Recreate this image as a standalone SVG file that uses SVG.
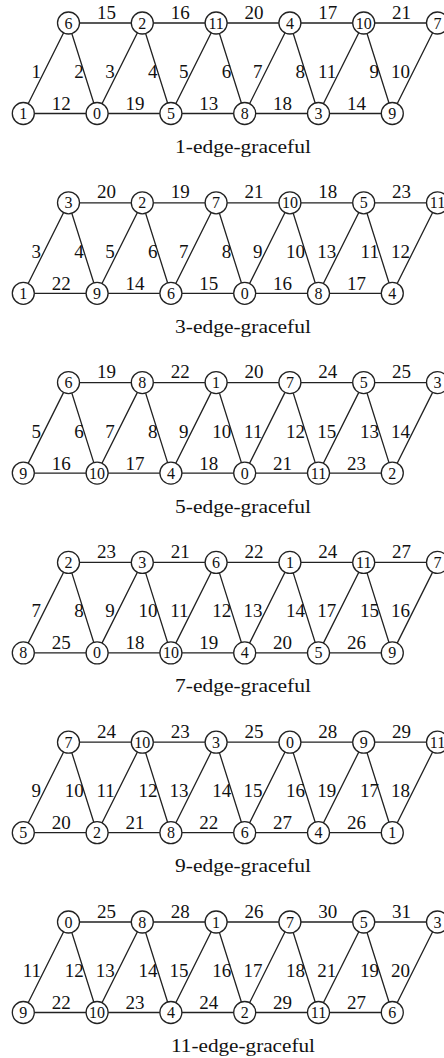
<svg xmlns="http://www.w3.org/2000/svg" xmlns:xlink="http://www.w3.org/1999/xlink" width="444" height="1058" viewBox="0 0 444 1058" font-family="'Liberation Serif','Times New Roman','DejaVu Serif',serif">
<style>
.bg{fill:#fff}
.ln{fill:none;stroke:#222;stroke-width:1.3}
.nd circle{fill:#fff;stroke:#222;stroke-width:1.3}
.nd text{font-family:'Liberation Serif','Times New Roman','DejaVu Serif',serif;font-size:16px;text-anchor:middle;fill:#111}
.lb text{font-family:'Liberation Serif','Times New Roman','DejaVu Serif',serif;font-size:19px;fill:#111}
.lb .h{text-anchor:middle}
.lb .d{text-anchor:end}
.cap{font-family:'Liberation Serif','Times New Roman','DejaVu Serif',serif;font-size:18px;fill:#111;text-anchor:middle}
</style>
<defs>
<path id="frame" class="ln" fill="none" stroke="#222" stroke-width="1.3" d="M68.5 23H437.5M23.3 113.5H392.3M23.3 113.5L68.5 23L97.1 113.5L142.3 23L170.9 113.5L216.1 23L244.7 113.5L289.9 23L318.5 113.5L363.7 23L392.3 113.5L437.5 23"/>
</defs>
<rect class="bg" width="444" height="1058"/>

<!-- Panel 1 -->
<g id="panel1">
<g id="p1-connectors"><use xlink:href="#frame" href="#frame"/></g>
<g class="lb">
<text class="h" x="106.4" y="18.5">15</text><text class="h" x="180.2" y="18.5">16</text><text class="h" x="254" y="18.5">20</text><text class="h" x="327.8" y="18.5">17</text><text class="h" x="401.6" y="18.5">21</text>
<text class="h" x="61.2" y="110">12</text><text class="h" x="135" y="110">19</text><text class="h" x="208.8" y="110">13</text><text class="h" x="282.6" y="110">18</text><text class="h" x="356.4" y="110">14</text>
<text class="d" x="41" y="78">1</text><text class="d" x="114.8" y="78">3</text><text class="d" x="188.6" y="78">5</text><text class="d" x="262.4" y="78">7</text><text class="d" x="336.2" y="78">11</text><text class="d" x="410" y="78">10</text>
<text class="d" x="83.7" y="78">2</text><text class="d" x="157.5" y="78">4</text><text class="d" x="231.3" y="78">6</text><text class="d" x="305.1" y="78">8</text><text class="d" x="378.9" y="78">9</text>
</g>
<g id="p1-t0" class="nd" transform="translate(68.5,23)"><circle r="11"/><text y="5.5">6</text></g>
<g id="p1-t1" class="nd" transform="translate(142.3,23)"><circle r="11"/><text y="5.5">2</text></g>
<g id="p1-t2" class="nd" transform="translate(216.1,23)"><circle r="11"/><text y="5.5">11</text></g>
<g id="p1-t3" class="nd" transform="translate(289.9,23)"><circle r="11"/><text y="5.5">4</text></g>
<g id="p1-t4" class="nd" transform="translate(363.7,23)"><circle r="11"/><text y="5.5">10</text></g>
<g id="p1-t5" class="nd" transform="translate(437.5,23)"><circle r="11"/><text y="5.5">7</text></g>
<g id="p1-b0" class="nd" transform="translate(23.3,113.5)"><circle r="11"/><text y="5.5">1</text></g>
<g id="p1-b1" class="nd" transform="translate(97.1,113.5)"><circle r="11"/><text y="5.5">0</text></g>
<g id="p1-b2" class="nd" transform="translate(170.9,113.5)"><circle r="11"/><text y="5.5">5</text></g>
<g id="p1-b3" class="nd" transform="translate(244.7,113.5)"><circle r="11"/><text y="5.5">8</text></g>
<g id="p1-b4" class="nd" transform="translate(318.5,113.5)"><circle r="11"/><text y="5.5">3</text></g>
<g id="p1-b5" class="nd" transform="translate(392.3,113.5)"><circle r="11"/><text y="5.5">9</text></g>
<text class="cap" x="243" y="153" textLength="136" lengthAdjust="spacingAndGlyphs">1-edge-graceful</text>
</g>

<!-- Panel 2 -->
<g id="panel2" transform="translate(0,179.8)">
<g id="p2-connectors"><use xlink:href="#frame" href="#frame"/></g>
<g class="lb">
<text class="h" x="106.4" y="18.5">20</text><text class="h" x="180.2" y="18.5">19</text><text class="h" x="254" y="18.5">21</text><text class="h" x="327.8" y="18.5">18</text><text class="h" x="401.6" y="18.5">23</text>
<text class="h" x="61.2" y="110">22</text><text class="h" x="135" y="110">14</text><text class="h" x="208.8" y="110">15</text><text class="h" x="282.6" y="110">16</text><text class="h" x="356.4" y="110">17</text>
<text class="d" x="41" y="78">3</text><text class="d" x="114.8" y="78">5</text><text class="d" x="188.6" y="78">7</text><text class="d" x="262.4" y="78">9</text><text class="d" x="336.2" y="78">13</text><text class="d" x="410" y="78">12</text>
<text class="d" x="83.7" y="78">4</text><text class="d" x="157.5" y="78">6</text><text class="d" x="231.3" y="78">8</text><text class="d" x="305.1" y="78">10</text><text class="d" x="378.9" y="78">11</text>
</g>
<g id="p2-t0" class="nd" transform="translate(68.5,23)"><circle r="11"/><text y="5.5">3</text></g>
<g id="p2-t1" class="nd" transform="translate(142.3,23)"><circle r="11"/><text y="5.5">2</text></g>
<g id="p2-t2" class="nd" transform="translate(216.1,23)"><circle r="11"/><text y="5.5">7</text></g>
<g id="p2-t3" class="nd" transform="translate(289.9,23)"><circle r="11"/><text y="5.5">10</text></g>
<g id="p2-t4" class="nd" transform="translate(363.7,23)"><circle r="11"/><text y="5.5">5</text></g>
<g id="p2-t5" class="nd" transform="translate(437.5,23)"><circle r="11"/><text y="5.5">11</text></g>
<g id="p2-b0" class="nd" transform="translate(23.3,113.5)"><circle r="11"/><text y="5.5">1</text></g>
<g id="p2-b1" class="nd" transform="translate(97.1,113.5)"><circle r="11"/><text y="5.5">9</text></g>
<g id="p2-b2" class="nd" transform="translate(170.9,113.5)"><circle r="11"/><text y="5.5">6</text></g>
<g id="p2-b3" class="nd" transform="translate(244.7,113.5)"><circle r="11"/><text y="5.5">0</text></g>
<g id="p2-b4" class="nd" transform="translate(318.5,113.5)"><circle r="11"/><text y="5.5">8</text></g>
<g id="p2-b5" class="nd" transform="translate(392.3,113.5)"><circle r="11"/><text y="5.5">4</text></g>
<text class="cap" x="243" y="153" textLength="136" lengthAdjust="spacingAndGlyphs">3-edge-graceful</text>
</g>

<!-- Panel 3 -->
<g id="panel3" transform="translate(0,359.6)">
<g id="p3-connectors"><use xlink:href="#frame" href="#frame"/></g>
<g class="lb">
<text class="h" x="106.4" y="18.5">19</text><text class="h" x="180.2" y="18.5">22</text><text class="h" x="254" y="18.5">20</text><text class="h" x="327.8" y="18.5">24</text><text class="h" x="401.6" y="18.5">25</text>
<text class="h" x="61.2" y="110">16</text><text class="h" x="135" y="110">17</text><text class="h" x="208.8" y="110">18</text><text class="h" x="282.6" y="110">21</text><text class="h" x="356.4" y="110">23</text>
<text class="d" x="41" y="78">5</text><text class="d" x="114.8" y="78">7</text><text class="d" x="188.6" y="78">9</text><text class="d" x="262.4" y="78">11</text><text class="d" x="336.2" y="78">15</text><text class="d" x="410" y="78">14</text>
<text class="d" x="83.7" y="78">6</text><text class="d" x="157.5" y="78">8</text><text class="d" x="231.3" y="78">10</text><text class="d" x="305.1" y="78">12</text><text class="d" x="378.9" y="78">13</text>
</g>
<g id="p3-t0" class="nd" transform="translate(68.5,23)"><circle r="11"/><text y="5.5">6</text></g>
<g id="p3-t1" class="nd" transform="translate(142.3,23)"><circle r="11"/><text y="5.5">8</text></g>
<g id="p3-t2" class="nd" transform="translate(216.1,23)"><circle r="11"/><text y="5.5">1</text></g>
<g id="p3-t3" class="nd" transform="translate(289.9,23)"><circle r="11"/><text y="5.5">7</text></g>
<g id="p3-t4" class="nd" transform="translate(363.7,23)"><circle r="11"/><text y="5.5">5</text></g>
<g id="p3-t5" class="nd" transform="translate(437.5,23)"><circle r="11"/><text y="5.5">3</text></g>
<g id="p3-b0" class="nd" transform="translate(23.3,113.5)"><circle r="11"/><text y="5.5">9</text></g>
<g id="p3-b1" class="nd" transform="translate(97.1,113.5)"><circle r="11"/><text y="5.5">10</text></g>
<g id="p3-b2" class="nd" transform="translate(170.9,113.5)"><circle r="11"/><text y="5.5">4</text></g>
<g id="p3-b3" class="nd" transform="translate(244.7,113.5)"><circle r="11"/><text y="5.5">0</text></g>
<g id="p3-b4" class="nd" transform="translate(318.5,113.5)"><circle r="11"/><text y="5.5">11</text></g>
<g id="p3-b5" class="nd" transform="translate(392.3,113.5)"><circle r="11"/><text y="5.5">2</text></g>
<text class="cap" x="243" y="153" textLength="136" lengthAdjust="spacingAndGlyphs">5-edge-graceful</text>
</g>

<!-- Panel 4 -->
<g id="panel4" transform="translate(0,539.4)">
<g id="p4-connectors"><use xlink:href="#frame" href="#frame"/></g>
<g class="lb">
<text class="h" x="106.4" y="18.5">23</text><text class="h" x="180.2" y="18.5">21</text><text class="h" x="254" y="18.5">22</text><text class="h" x="327.8" y="18.5">24</text><text class="h" x="401.6" y="18.5">27</text>
<text class="h" x="61.2" y="110">25</text><text class="h" x="135" y="110">18</text><text class="h" x="208.8" y="110">19</text><text class="h" x="282.6" y="110">20</text><text class="h" x="356.4" y="110">26</text>
<text class="d" x="41" y="78">7</text><text class="d" x="114.8" y="78">9</text><text class="d" x="188.6" y="78">11</text><text class="d" x="262.4" y="78">13</text><text class="d" x="336.2" y="78">17</text><text class="d" x="410" y="78">16</text>
<text class="d" x="83.7" y="78">8</text><text class="d" x="157.5" y="78">10</text><text class="d" x="231.3" y="78">12</text><text class="d" x="305.1" y="78">14</text><text class="d" x="378.9" y="78">15</text>
</g>
<g id="p4-t0" class="nd" transform="translate(68.5,23)"><circle r="11"/><text y="5.5">2</text></g>
<g id="p4-t1" class="nd" transform="translate(142.3,23)"><circle r="11"/><text y="5.5">3</text></g>
<g id="p4-t2" class="nd" transform="translate(216.1,23)"><circle r="11"/><text y="5.5">6</text></g>
<g id="p4-t3" class="nd" transform="translate(289.9,23)"><circle r="11"/><text y="5.5">1</text></g>
<g id="p4-t4" class="nd" transform="translate(363.7,23)"><circle r="11"/><text y="5.5">11</text></g>
<g id="p4-t5" class="nd" transform="translate(437.5,23)"><circle r="11"/><text y="5.5">7</text></g>
<g id="p4-b0" class="nd" transform="translate(23.3,113.5)"><circle r="11"/><text y="5.5">8</text></g>
<g id="p4-b1" class="nd" transform="translate(97.1,113.5)"><circle r="11"/><text y="5.5">0</text></g>
<g id="p4-b2" class="nd" transform="translate(170.9,113.5)"><circle r="11"/><text y="5.5">10</text></g>
<g id="p4-b3" class="nd" transform="translate(244.7,113.5)"><circle r="11"/><text y="5.5">4</text></g>
<g id="p4-b4" class="nd" transform="translate(318.5,113.5)"><circle r="11"/><text y="5.5">5</text></g>
<g id="p4-b5" class="nd" transform="translate(392.3,113.5)"><circle r="11"/><text y="5.5">9</text></g>
<text class="cap" x="243" y="153" textLength="136" lengthAdjust="spacingAndGlyphs">7-edge-graceful</text>
</g>

<!-- Panel 5 -->
<g id="panel5" transform="translate(0,719.2)">
<g id="p5-connectors"><use xlink:href="#frame" href="#frame"/></g>
<g class="lb">
<text class="h" x="106.4" y="18.5">24</text><text class="h" x="180.2" y="18.5">23</text><text class="h" x="254" y="18.5">25</text><text class="h" x="327.8" y="18.5">28</text><text class="h" x="401.6" y="18.5">29</text>
<text class="h" x="61.2" y="110">20</text><text class="h" x="135" y="110">21</text><text class="h" x="208.8" y="110">22</text><text class="h" x="282.6" y="110">27</text><text class="h" x="356.4" y="110">26</text>
<text class="d" x="41" y="78">9</text><text class="d" x="114.8" y="78">11</text><text class="d" x="188.6" y="78">13</text><text class="d" x="262.4" y="78">15</text><text class="d" x="336.2" y="78">19</text><text class="d" x="410" y="78">18</text>
<text class="d" x="83.7" y="78">10</text><text class="d" x="157.5" y="78">12</text><text class="d" x="231.3" y="78">14</text><text class="d" x="305.1" y="78">16</text><text class="d" x="378.9" y="78">17</text>
</g>
<g id="p5-t0" class="nd" transform="translate(68.5,23)"><circle r="11"/><text y="5.5">7</text></g>
<g id="p5-t1" class="nd" transform="translate(142.3,23)"><circle r="11"/><text y="5.5">10</text></g>
<g id="p5-t2" class="nd" transform="translate(216.1,23)"><circle r="11"/><text y="5.5">3</text></g>
<g id="p5-t3" class="nd" transform="translate(289.9,23)"><circle r="11"/><text y="5.5">0</text></g>
<g id="p5-t4" class="nd" transform="translate(363.7,23)"><circle r="11"/><text y="5.5">9</text></g>
<g id="p5-t5" class="nd" transform="translate(437.5,23)"><circle r="11"/><text y="5.5">11</text></g>
<g id="p5-b0" class="nd" transform="translate(23.3,113.5)"><circle r="11"/><text y="5.5">5</text></g>
<g id="p5-b1" class="nd" transform="translate(97.1,113.5)"><circle r="11"/><text y="5.5">2</text></g>
<g id="p5-b2" class="nd" transform="translate(170.9,113.5)"><circle r="11"/><text y="5.5">8</text></g>
<g id="p5-b3" class="nd" transform="translate(244.7,113.5)"><circle r="11"/><text y="5.5">6</text></g>
<g id="p5-b4" class="nd" transform="translate(318.5,113.5)"><circle r="11"/><text y="5.5">4</text></g>
<g id="p5-b5" class="nd" transform="translate(392.3,113.5)"><circle r="11"/><text y="5.5">1</text></g>
<text class="cap" x="243" y="153" textLength="136" lengthAdjust="spacingAndGlyphs">9-edge-graceful</text>
</g>

<!-- Panel 6 -->
<g id="panel6" transform="translate(0,899)">
<g id="p6-connectors"><use xlink:href="#frame" href="#frame"/></g>
<g class="lb">
<text class="h" x="106.4" y="18.5">25</text><text class="h" x="180.2" y="18.5">28</text><text class="h" x="254" y="18.5">26</text><text class="h" x="327.8" y="18.5">30</text><text class="h" x="401.6" y="18.5">31</text>
<text class="h" x="61.2" y="110">22</text><text class="h" x="135" y="110">23</text><text class="h" x="208.8" y="110">24</text><text class="h" x="282.6" y="110">29</text><text class="h" x="356.4" y="110">27</text>
<text class="d" x="41" y="78">11</text><text class="d" x="114.8" y="78">13</text><text class="d" x="188.6" y="78">15</text><text class="d" x="262.4" y="78">17</text><text class="d" x="336.2" y="78">21</text><text class="d" x="410" y="78">20</text>
<text class="d" x="83.7" y="78">12</text><text class="d" x="157.5" y="78">14</text><text class="d" x="231.3" y="78">16</text><text class="d" x="305.1" y="78">18</text><text class="d" x="378.9" y="78">19</text>
</g>
<g id="p6-t0" class="nd" transform="translate(68.5,23)"><circle r="11"/><text y="5.5">0</text></g>
<g id="p6-t1" class="nd" transform="translate(142.3,23)"><circle r="11"/><text y="5.5">8</text></g>
<g id="p6-t2" class="nd" transform="translate(216.1,23)"><circle r="11"/><text y="5.5">1</text></g>
<g id="p6-t3" class="nd" transform="translate(289.9,23)"><circle r="11"/><text y="5.5">7</text></g>
<g id="p6-t4" class="nd" transform="translate(363.7,23)"><circle r="11"/><text y="5.5">5</text></g>
<g id="p6-t5" class="nd" transform="translate(437.5,23)"><circle r="11"/><text y="5.5">3</text></g>
<g id="p6-b0" class="nd" transform="translate(23.3,113.5)"><circle r="11"/><text y="5.5">9</text></g>
<g id="p6-b1" class="nd" transform="translate(97.1,113.5)"><circle r="11"/><text y="5.5">10</text></g>
<g id="p6-b2" class="nd" transform="translate(170.9,113.5)"><circle r="11"/><text y="5.5">4</text></g>
<g id="p6-b3" class="nd" transform="translate(244.7,113.5)"><circle r="11"/><text y="5.5">2</text></g>
<g id="p6-b4" class="nd" transform="translate(318.5,113.5)"><circle r="11"/><text y="5.5">11</text></g>
<g id="p6-b5" class="nd" transform="translate(392.3,113.5)"><circle r="11"/><text y="5.5">6</text></g>
<text class="cap" x="243" y="153" textLength="144" lengthAdjust="spacingAndGlyphs">11-edge-graceful</text>
</g>
</svg>
